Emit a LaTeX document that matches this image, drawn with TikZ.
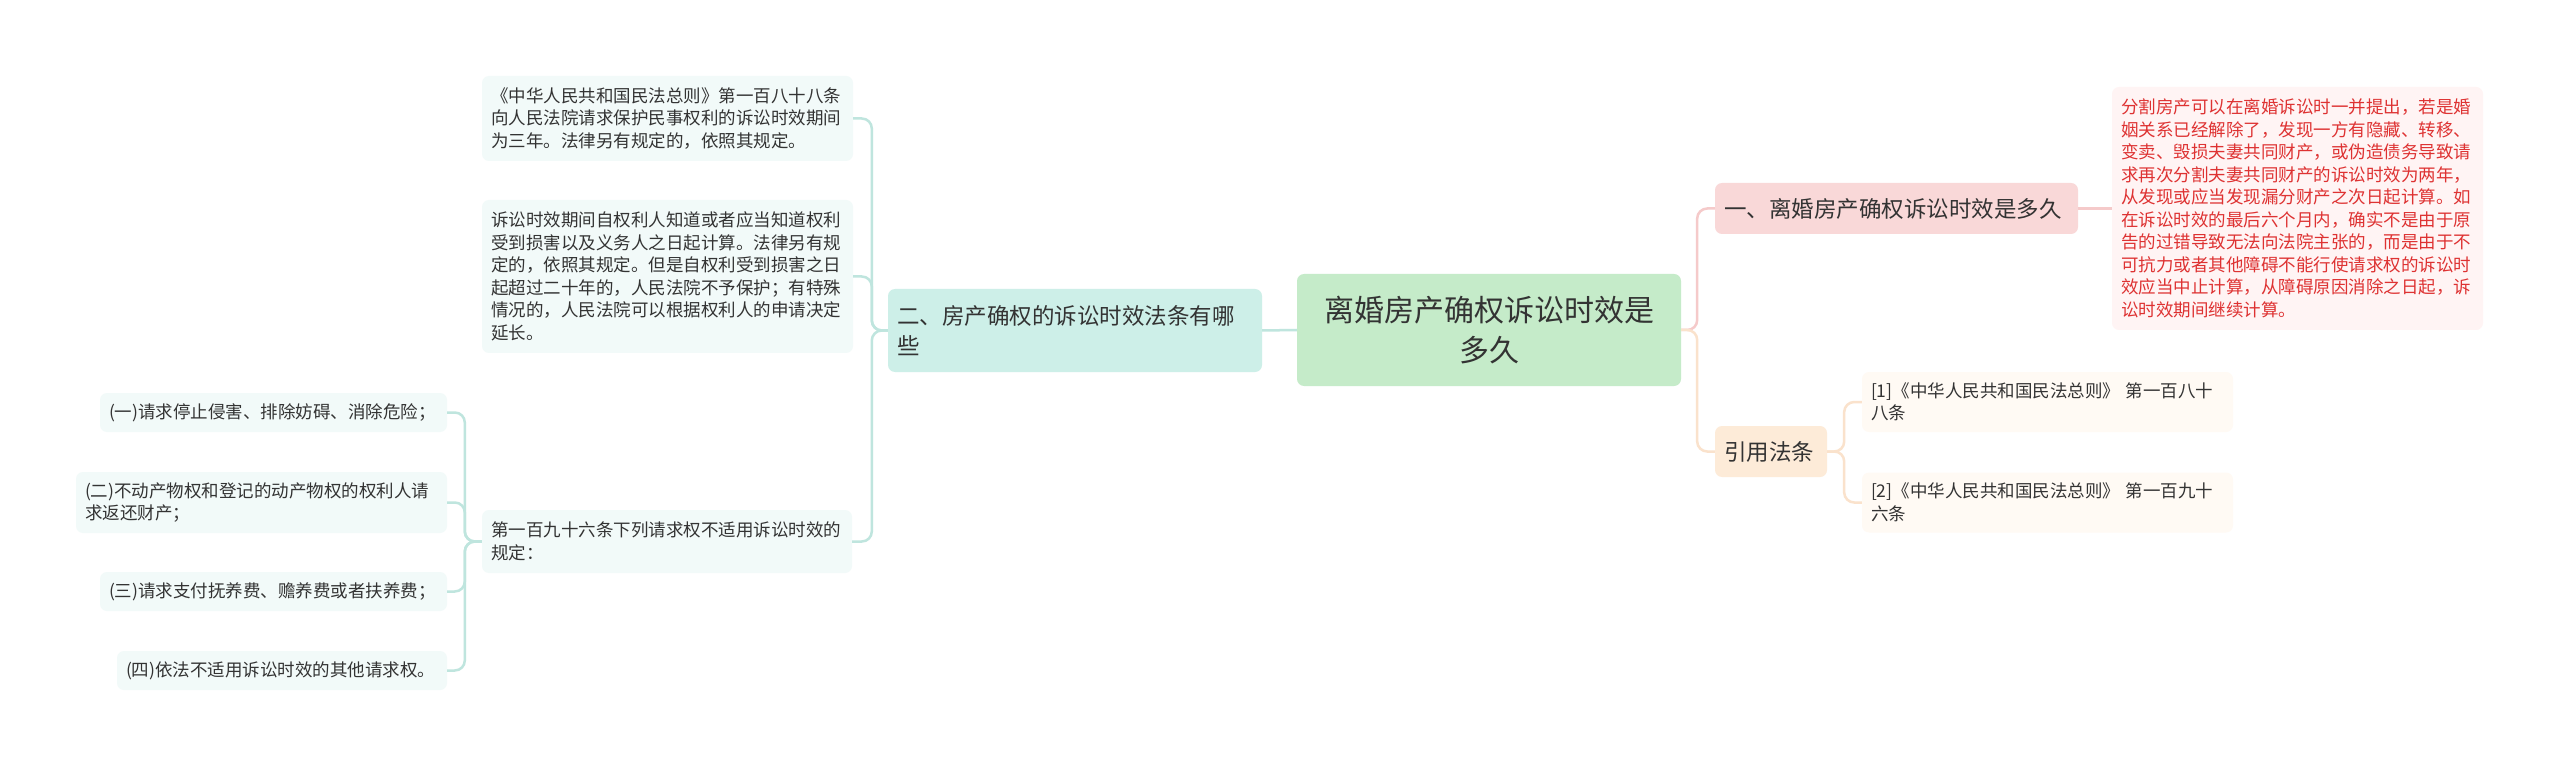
\documentclass[tikz,border=0pt]{standalone}
\usepackage{fontspec}
\newfontfamily\cjk{Noto Sans CJK SC}
\definecolor{txt}{HTML}{333333}
\definecolor{redtxt}{HTML}{DE3232}
\definecolor{rootfill}{HTML}{C5EBC9}
\definecolor{twofill}{HTML}{CDEFE8}
\definecolor{onefill}{HTML}{F9D8D8}
\definecolor{citefill}{HTML}{FDEBD8}
\definecolor{redfill}{HTML}{FFF4F4}
\definecolor{reffill}{HTML}{FFFAF4}
\definecolor{leaffill}{HTML}{F2FAF9}
\definecolor{tealline}{HTML}{BFE5DE}
\definecolor{pinkline}{HTML}{F5CACA}
\definecolor{peachline}{HTML}{FAE2CC}
\begin{document}
\begin{tikzpicture}[x=1pt,y=-1pt,
  box/.style={rounded corners=7pt, inner xsep=9pt, inner ysep=0pt, text=txt, anchor=center, align=left},
  small/.style={font=\cjk\fontsize{17.5}{22.5}\selectfont},
  mid/.style={font=\cjk\fontsize{22.5}{30}\selectfont},
  big/.style={font=\cjk\fontsize{30}{40}\selectfont},
  conn/.style={line width=2.5pt, rounded corners=10pt},
]
\useasboundingbox[fill=white] (0,0) rectangle (2560,767);

% root
\node[box, big, fill=rootfill, align=center, text width=366pt, minimum height=112pt] (root) at (1489,330) {离婚房产确权诉讼时效是\\多久};

% right side
\node[box, mid, fill=onefill, text width=345pt, minimum height=51pt] (one) at (1896.5,208.5) {一、离婚房产确权诉讼时效是多久};
\node[box, small, fill=redfill, text=redtxt, text width=353pt, minimum height=243pt] (red) at (2297.5,208.5) {分割房产可以在离婚诉讼时一并提出，若是婚\\姻关系已经解除了，发现一方有隐藏、转移、\\变卖、毁损夫妻共同财产，或伪造债务导致请\\求再次分割夫妻共同财产的诉讼时效为两年，\\从发现或应当发现漏分财产之次日起计算。如\\在诉讼时效的最后六个月内，确实不是由于原\\告的过错导致无法向法院主张的，而是由于不\\可抗力或者其他障碍不能行使请求权的诉讼时\\效应当中止计算，从障碍原因消除之日起，诉\\讼时效期间继续计算。};
\node[box, mid, fill=citefill, text width=94pt, minimum height=51pt] (cite) at (1771,451.5) {引用法条};
\node[box, small, fill=reffill, text width=353pt, minimum height=60pt] (ref1) at (2047.5,402) {[1]《中华人民共和国民法总则》 第一百八十\\八条};
\node[box, small, fill=reffill, text width=353pt, minimum height=60pt] (ref2) at (2047.5,502.5) {[2]《中华人民共和国民法总则》 第一百九十\\六条};

% left side
\node[box, mid, fill=twofill, text width=356pt, minimum height=83pt] (two) at (1075,330.5) {二、房产确权的诉讼时效法条有哪\\些};
\node[box, small, fill=leaffill, text width=353pt, minimum height=85pt] (L1) at (667.5,118.5) {《中华人民共和国民法总则》第一百八十八条\\向人民法院请求保护民事权利的诉讼时效期间\\为三年。法律另有规定的，依照其规定。};
\node[box, small, fill=leaffill, text width=353pt, minimum height=153pt] (L2) at (667.5,276.5) {诉讼时效期间自权利人知道或者应当知道权利\\受到损害以及义务人之日起计算。法律另有规\\定的，依照其规定。但是自权利受到损害之日\\起超过二十年的，人民法院不予保护；有特殊\\情况的，人民法院可以根据权利人的申请决定\\延长。};
\node[box, small, fill=leaffill, text width=352pt, minimum height=63pt] (L3) at (667,541.5) {第一百九十六条下列请求权不适用诉讼时效的\\规定：};
\node[box, small, fill=leaffill, text width=329pt, minimum height=39pt] (G1) at (273.5,412.5) {(一)请求停止侵害、排除妨碍、消除危险；};
\node[box, small, fill=leaffill, text width=353pt, minimum height=61pt] (G2) at (261.5,502.5) {(二)不动产物权和登记的动产物权的权利人请\\求返还财产；};
\node[box, small, fill=leaffill, text width=329pt, minimum height=39pt] (G3) at (273.5,591.5) {(三)请求支付抚养费、赡养费或者扶养费；};
\node[box, small, fill=leaffill, text width=312pt, minimum height=39pt] (G4) at (282,670.5) {(四)依法不适用诉讼时效的其他请求权。};

% connectors right
\draw[conn, pinkline] (root.east) -- ++(16,0) |- (one.west);
\draw[conn, peachline] (root.east) -- ++(16,0) |- (cite.west);
\draw[conn, pinkline] (one.east) -- (red.west);
\draw[conn, peachline] (cite.east) -- ++(17,0) |- (ref1.west);
\draw[conn, peachline] (cite.east) -- ++(17,0) |- (ref2.west);

% connectors left
\draw[conn, tealline] (root.west) -- (two.east);
\draw[conn, tealline] (two.west) -- ++(-16,0) |- (L1.east);
\draw[conn, tealline] (two.west) -- ++(-16,0) |- (L2.east);
\draw[conn, tealline] (two.west) -- ++(-16,0) |- (L3.east);
\draw[conn, tealline] (L3.west) -- ++(-17,0) |- (G1.east);
\draw[conn, tealline] (L3.west) -- ++(-17,0) |- (G2.east);
\draw[conn, tealline] (L3.west) -- ++(-17,0) |- (G3.east);
\draw[conn, tealline] (L3.west) -- ++(-17,0) |- (G4.east);
\end{tikzpicture}
\end{document}
